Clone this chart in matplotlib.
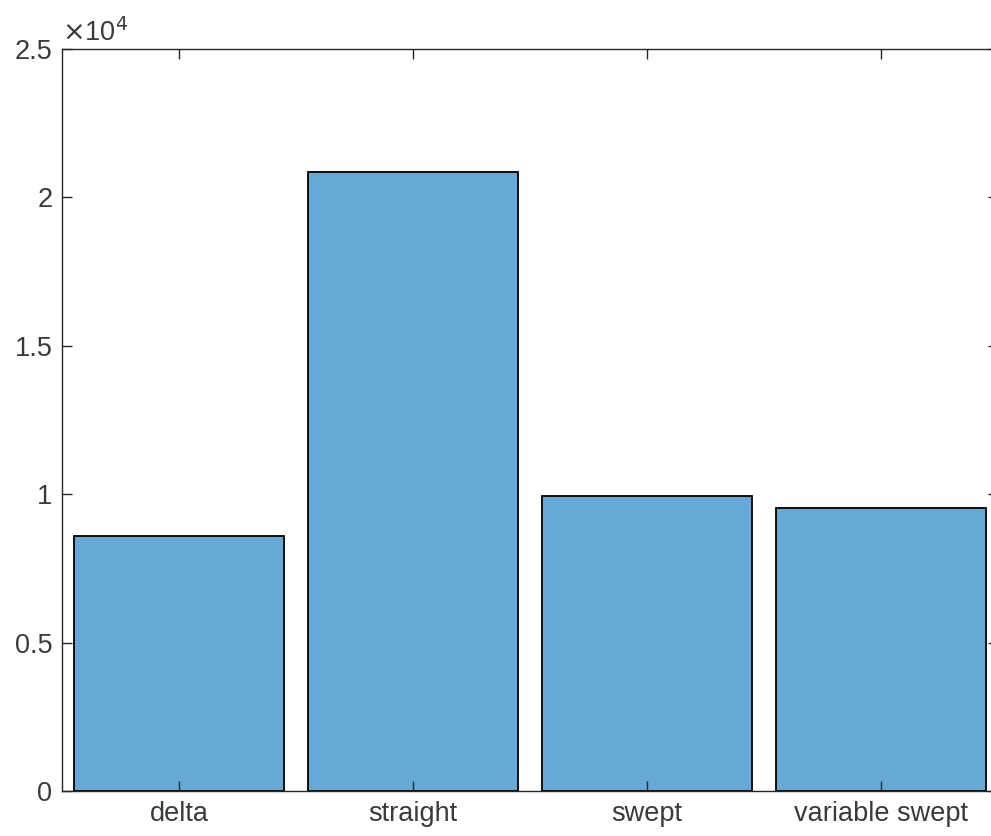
import numpy as np
import matplotlib.pyplot as plt

plt.rcParams['font.family'] = ['Liberation Sans', 'DejaVu Sans']

categories = ['delta', 'straight', 'swept', 'variable swept']
values = [8590, 20860, 9940, 9540]

W, H = 991, 836
fig = plt.figure(figsize=(W / 100, H / 100), dpi=100)
# axes runs past the right edge of the figure, as in the reference
ax = fig.add_axes([62 / W, (H - 791) / H, (998 - 62) / W, (791 - 49) / H])

x = np.arange(1, len(categories) + 1)
ax.bar(x, values, width=0.9, color='#66a9d6', edgecolor='black', linewidth=1.3)

ax.set_xlim(0.5, 4.5)
ax.set_ylim(0, 25000)
ax.set_xticks(x)
ax.set_xticklabels(categories)
ax.set_yticks([0, 5000, 10000, 15000, 20000, 25000])
ax.set_yticklabels(['0', '0.5', '1', '1.5', '2', '2.5'])

gray = '#262626'
for s in ax.spines.values():
    s.set_color(gray)
    s.set_linewidth(1.0)
ax.tick_params(direction='in', length=7, width=1.0, colors=gray, labelsize=19.5,
               top=True, right=True, pad=7)
ax.tick_params(axis='x', labelcolor='#3a3a3a')
ax.tick_params(axis='y', labelcolor='#3a3a3a')

ax.text(0.0, 1.003, r'$\times$10$^4$', transform=ax.transAxes, fontsize=19.5,
        color='#3a3a3a', ha='left', va='bottom')

fig.savefig('out.png', dpi=100)
